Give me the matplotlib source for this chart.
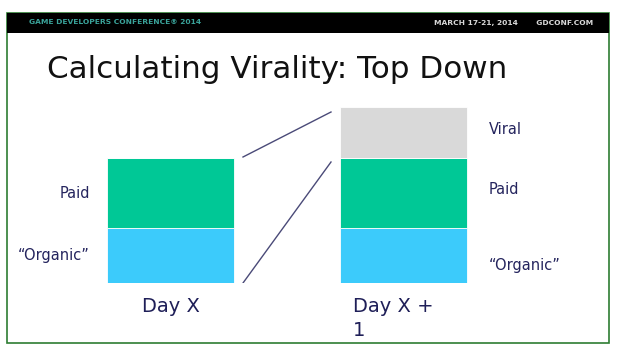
import matplotlib.pyplot as plt
from matplotlib.patches import Rectangle

# stacked segment sizes (arbitrary units, bottom to top)
days = ["Day X", "Day X +\n1"]
organic = [55, 55]
paid = [70, 70]
viral = [0, 51]
segment_names = ["\u201cOrganic\u201d", "Paid", "Viral"]
segment_colors = ["#3ccbfb", "#00c896", "#d9d9d9"]

W, H = 622, 349
fig = plt.figure(figsize=(W / 100, H / 100), dpi=100)


def fx(px):
    return px / W


def fy(py):
    return 1 - py / H


# slide frame and header bar
fig.patches.append(Rectangle((fx(7), fy(343)), fx(609) - fx(7), fy(13) - fy(343),
                             transform=fig.transFigure, fill=False,
                             edgecolor="#2e7d32", lw=1.2))
fig.patches.append(Rectangle((fx(7), fy(33)), fx(609) - fx(7), fy(13) - fy(33),
                             transform=fig.transFigure, facecolor="black",
                             edgecolor="none"))
fig.text(fx(29), fy(22.5), "GAME DEVELOPERS CONFERENCE\u00ae 2014", color="#3aa39a",
         fontsize=5.4, fontweight="bold", va="center", ha="left")
fig.text(fx(593), fy(22.5), "MARCH 17-21, 2014       GDCONF.COM", color="#d8d8d8",
         fontsize=5.4, fontweight="bold", va="center", ha="right")

fig.text(fx(47), fy(69), "Calculating Virality: Top Down", color="#111111",
         fontsize=22.3, va="center", ha="left")

# bar axes: 1 data unit in y = 1 pixel
ax = fig.add_axes([0, fy(283), 1, fy(83) - fy(283)])
ax.set_ylim(0, 200)
ax.set_xlim(-170.5 / 233, (W - 170.5) / 233)
ax.set_axis_off()

x = [0, 1]
width = 127 / 233
bottom = [0, 0]
for vals, col in zip([organic, paid, viral], segment_colors):
    ax.bar(x, vals, width=width, bottom=bottom, color=col, edgecolor="white", lw=0.6)
    bottom = [b + v for b, v in zip(bottom, vals)]

total0 = organic[0] + paid[0]
total1 = organic[1] + paid[1] + viral[1]
gap = 9 / 233
x0 = x[0] + width / 2 + gap
x1 = x[1] - width / 2 - gap
ax.plot([x0, x1], [total0 + 1, total1 - 5], color="#4a4a78", lw=1)
ax.plot([x0, x1], [0, total0 - 4], color="#4a4a78", lw=1)

label_color = "#25255e"
# left labels (Day X)
starts = [0, organic[0]]
for name, s, v in zip(segment_names[:2], starts, [organic[0], paid[0]]):
    ax.text(x[0] - width / 2 - 17 / 233, s + v / 2, name, ha="right", va="center",
            fontsize=10.5, color=label_color)

# right labels (Day X + 1)
starts = [0, organic[1], organic[1] + paid[1]]
offsets = [-10, 3, 2.5]
for name, s, v, off in zip(segment_names, starts, [organic[1], paid[1], viral[1]], offsets):
    ax.text(x[1] + width / 2 + 22 / 233, s + v / 2 + off, name, ha="left", va="center",
            fontsize=10.5, color=label_color)

ax.text(x[0], -23, days[0], ha="center", va="center", fontsize=14, color="#1f1f58")
ax.text(x[1] - width / 2 + 13 / 233, -14, days[1], ha="left", va="top",
        fontsize=14, color="#1f1f58", linespacing=1.35)

fig.savefig("out.png", dpi=100)
